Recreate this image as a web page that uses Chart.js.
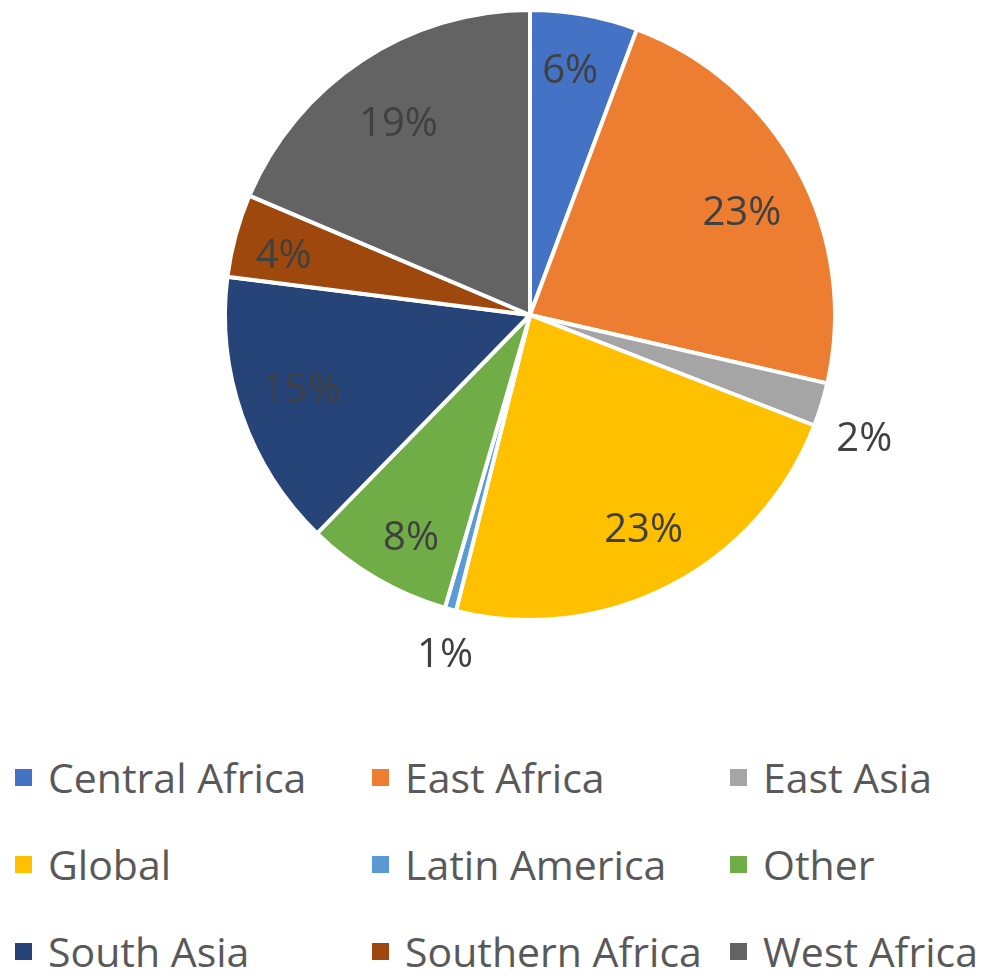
<!DOCTYPE html>
<html>
<head>
<meta charset="utf-8">
<script src="https://cdn.jsdelivr.net/npm/chart.js@4.4.1/dist/chart.umd.min.js"></script>
<style>
    html, body { margin: 0; padding: 0; background: #fff; }
    #wrap { position: relative; width: 1000px; height: 978px; overflow: hidden; }
    #pieChart { position: absolute; left: 0; top: 0; }
    .leg { position: absolute; font-family: "Open Sans", sans-serif; font-size: 41px; color: #595959; white-space: nowrap; line-height: 1; }
    .leg i { position: absolute; width: 17px; height: 17px; }
</style>
</head>
<body>
<div id="wrap">
    <canvas id="pieChart" width="1000" height="720"></canvas>
</div>
<script>
    // Regions and their share
    const regions = ['Central Africa', 'East Africa', 'East Asia', 'Global', 'Latin America',
                     'Other', 'South Asia', 'Southern Africa', 'West Africa'];
    const shares = [5.7, 22.9, 2.3, 23.0, 0.6, 7.8, 14.7, 4.4, 18.6];
    const colors = ['#4472C4', '#ED7D31', '#A5A5A5', '#FFC000', '#5B9BD5',
                    '#70AD47', '#264478', '#9E480E', '#636363'];

    // Label placement ("best fit" look): distance as fraction of radius, and a small turn in degrees
    const labelDist = [0.81, 0.77, 1.17, 0.80, 1.15, 0.83, 0.79, 0.83, 0.76];
    const labelTurn = [-0.9, 2.7, 3.4, -0.4, -1.1, -2.2, 0.9, -1.8, -1.1];

    // Percent labels drawn on/next to the slices
    const pctLabels = {
        id: 'pctLabels',
        afterDatasetsDraw(chart) {
            const ctx = chart.ctx;
            const data = chart.data.datasets[0].data;
            const total = data.reduce((a, b) => a + b, 0);
            ctx.save();
            ctx.font = '40px "Open Sans", sans-serif';
            ctx.fillStyle = '#404040';
            ctx.textAlign = 'center';
            ctx.textBaseline = 'middle';
            chart.getDatasetMeta(0).data.forEach((arc, i) => {
                const p = arc.getProps(['x', 'y', 'startAngle', 'endAngle', 'outerRadius'], true);
                const pct = data[i] / total * 100;
                const mid = (p.startAngle + p.endAngle) / 2 + labelTurn[i] * Math.PI / 180;
                const r = p.outerRadius * labelDist[i];
                ctx.fillText(Math.round(pct) + '%', p.x + Math.cos(mid) * r, p.y + Math.sin(mid) * r);
            });
            ctx.restore();
        }
    };

    new Chart(document.getElementById('pieChart'), {
        type: 'pie',
        data: {
            labels: regions,
            datasets: [{
                data: shares,
                backgroundColor: colors,
                borderColor: '#ffffff',
                borderWidth: 4
            }]
        },
        options: {
            responsive: false,
            animation: false,
            layout: { padding: { top: 8, bottom: 98, left: 60, right: 0 } },
            plugins: { legend: { display: false }, tooltip: { enabled: false } }
        },
        plugins: [pctLabels]
    });

    // Legend: 3 columns x 3 rows
    const wrap = document.getElementById('wrap');
    const colX = [15, 372, 730];
    const rowY = [777, 864, 951];
    regions.forEach((name, i) => {
        const item = document.createElement('div');
        item.className = 'leg';
        item.style.left = colX[i % 3] + 'px';
        item.style.top = (rowY[Math.floor(i / 3)] - 20) + 'px';
        item.innerHTML = '<i style="background:' + colors[i] + ';left:0;top:12px"></i>' +
                         '<span style="margin-left:33px">' + name + '</span>';
        wrap.appendChild(item);
    });
</script>
</body>
</html>
